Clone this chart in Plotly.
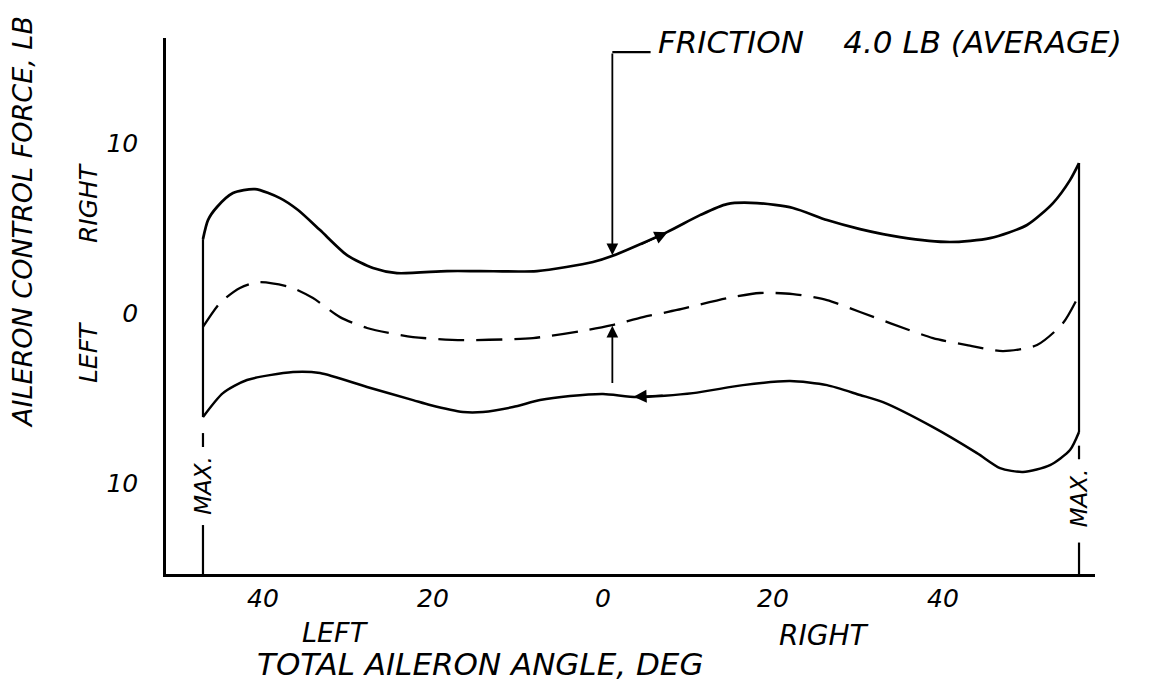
import plotly.graph_objects as go

# ---- data (x: total aileron angle, deg; negative = left) ----
# ---- (y: aileron control force, lb; positive = right) ----
upper_x = [-47.06, -46.47, -45.41, -43.53, -40.94, -38.00, -35.88, -33.29, -30.12, -27.06,
           -24.24, -18.35, -14.47, -7.76, -1.18, 1.06, 7.53, 11.41, 14.59, 18.12, 22.35,
           26.35, 30.24, 34.94, 40.82, 45.53, 49.88, 52.94, 54.94, 56.00]
upper_y = [4.35, 5.47, 6.24, 7.06, 7.29, 6.76, 6.06, 4.88, 3.41, 2.65,
           2.35, 2.47, 2.47, 2.47, 3.00, 3.35, 4.76, 5.76, 6.41, 6.47, 6.18,
           5.47, 4.94, 4.47, 4.18, 4.41, 5.18, 6.47, 7.82, 8.82]

mean_x = [-47.06, -45.06, -42.71, -40.59, -36.82, -34.12, -30.94, -27.76, -22.35, -16.47,
          -8.24, -1.88, 1.06, 4.71, 8.71, 14.59, 18.47, 22.35, 26.35, 30.24, 33.76,
          38.82, 42.82, 47.06, 51.06, 54.12, 55.88]
mean_y = [-0.82, 0.59, 1.47, 1.82, 1.53, 0.88, -0.24, -0.88, -1.41, -1.59,
          -1.47, -1.00, -0.71, -0.24, 0.18, 0.88, 1.18, 1.12, 0.76, 0.06, -0.59,
          -1.47, -1.88, -2.24, -1.88, -0.59, 0.94]

lower_x = [-47.06, -44.71, -41.88, -36.47, -33.29, -27.76, -22.35, -20.35, -16.47, -14.12,
           -10.59, -7.41, -3.88, 0.00, 4.00, 10.59, 16.47, 22.00, 26.35, 30.24, 32.94,
           38.82, 44.00, 46.71, 49.41, 52.59, 54.94, 56.00]
lower_y = [-6.12, -4.71, -3.94, -3.47, -3.53, -4.35, -5.12, -5.41, -5.82, -5.82,
           -5.53, -5.12, -4.88, -4.76, -4.94, -4.71, -4.24, -4.00, -4.24, -4.82, -5.24,
           -6.71, -8.24, -9.12, -9.35, -8.94, -8.06, -7.00]

x_tick_vals = [-40, -20, 0, 20, 40]
x_tick_text = ["40", "20", "0", "20", "40"]
y_tick_vals = [10, 0, -10]
y_tick_text = ["10", "0", "10"]

max_left = -47.06
max_right = 56.00
friction_x = 1.10

X_RANGE = [-51.41, 57.88]
Y_RANGE = [-15.35, 16.18]

FONT = "DejaVu Sans"
INK = "black"

fig = go.Figure()

fig.add_trace(go.Scatter(x=upper_x, y=upper_y, mode="lines",
                         line=dict(color=INK, width=2.7, shape="spline", smoothing=0.7),
                         hoverinfo="skip", showlegend=False))
fig.add_trace(go.Scatter(x=mean_x, y=mean_y, mode="lines",
                         line=dict(color=INK, width=2.3, shape="spline", smoothing=0.7,
                                   dash="26px,12px"),
                         hoverinfo="skip", showlegend=False))
fig.add_trace(go.Scatter(x=lower_x, y=lower_y, mode="lines",
                         line=dict(color=INK, width=2.5, shape="spline", smoothing=0.7),
                         hoverinfo="skip", showlegend=False))

# max-deflection verticals (curve ends joined, then "MAX." markers down to the axis)
bx = [max_left, max_left, None, max_left, max_left, None, max_left, max_left, None,
      max_right, max_right, None, max_right, max_right, None, max_right, max_right]
by = [upper_y[0], lower_y[0], None, -7.06, -7.88, None, -12.47, Y_RANGE[0], None,
      upper_y[-1], lower_y[-1], None, -7.8, -8.6, None, -13.5, Y_RANGE[0]]
fig.add_trace(go.Scatter(x=bx, y=by, mode="lines", line=dict(color=INK, width=2.2),
                         hoverinfo="skip", showlegend=False))

ital = dict(family=FONT, color=INK, style="italic")


def label(x, y, text, size, angle=0):
    return dict(x=x, y=y, xref="paper", yref="paper", text=text, showarrow=False,
                textangle=angle, xanchor="center", yanchor="middle",
                font=dict(size=size, **ital))


def arrow(x, y, ax, ay, width=1.8):
    return dict(x=x, y=y, ax=ax, ay=ay, xref="x", yref="y", axref="x", ayref="y",
                text="", showarrow=True, arrowhead=2, arrowsize=1.3,
                arrowwidth=width, arrowcolor=INK)


annotations = [
    # MAX labels
    dict(x=max_left, y=-10.1, xref="x", yref="y", text="MAX.", showarrow=False,
         textangle=-90, xanchor="center", yanchor="middle", font=dict(size=23, **ital)),
    dict(x=max_right, y=-10.9, xref="x", yref="y", text="MAX.", showarrow=False,
         textangle=-90, xanchor="center", yanchor="middle", font=dict(size=23, **ital)),
    # friction note
    dict(x=6.2, y=15.95, xref="x", yref="y", text="FRICTION    4.0 LB (AVERAGE)",
         showarrow=False, xanchor="left", yanchor="middle", font=dict(size=31, **ital)),
    # friction arrow down to upper curve, and up from lower branch to mean curve
    arrow(friction_x, 3.4, friction_x, 15.35),
    arrow(friction_x, -0.75, friction_x, -4.2),
    # direction arrows on the curves
    arrow(7.6, 4.75, 4.3, 4.0, 2),
    arrow(3.6, -4.93, 7.2, -4.85, 2),
    # axis titles and side labels
    label(-0.155, 0.6567, "AILERON CONTROL FORCE, LB", 27, -90),
    label(-0.084, 0.692, "RIGHT", 25, -90),
    label(-0.084, 0.414, "LEFT", 25, -90),
    label(0.338, -0.168, "TOTAL AILERON ANGLE, DEG", 31),
    label(0.182, -0.110, "LEFT", 27),
    label(0.708, -0.115, "RIGHT", 28),
]

shapes = [
    dict(type="line", xref="x", yref="y", x0=friction_x, x1=5.6, y0=15.35, y1=15.35,
         line=dict(color=INK, width=2.2)),
]

fig.update_layout(
    width=1151, height=694,
    margin=dict(l=158, r=64, t=30, b=128, pad=0),
    paper_bgcolor="white", plot_bgcolor="white",
    annotations=annotations, shapes=shapes,
    showlegend=False,
)
fig.update_xaxes(range=X_RANGE, tickvals=x_tick_vals, ticktext=x_tick_text,
                 showgrid=False, zeroline=False, showline=True, linecolor=INK, linewidth=2.5,
                 ticks="", tickfont=dict(size=25, **ital))
fig.update_yaxes(range=Y_RANGE, tickvals=y_tick_vals, ticktext=y_tick_text,
                 showgrid=False, zeroline=False, showline=True, linecolor=INK, linewidth=2.5,
                 ticks="outside", ticklen=20, tickcolor="rgba(0,0,0,0)",
                 tickfont=dict(size=25, **ital))

fig.write_html("out.html")
